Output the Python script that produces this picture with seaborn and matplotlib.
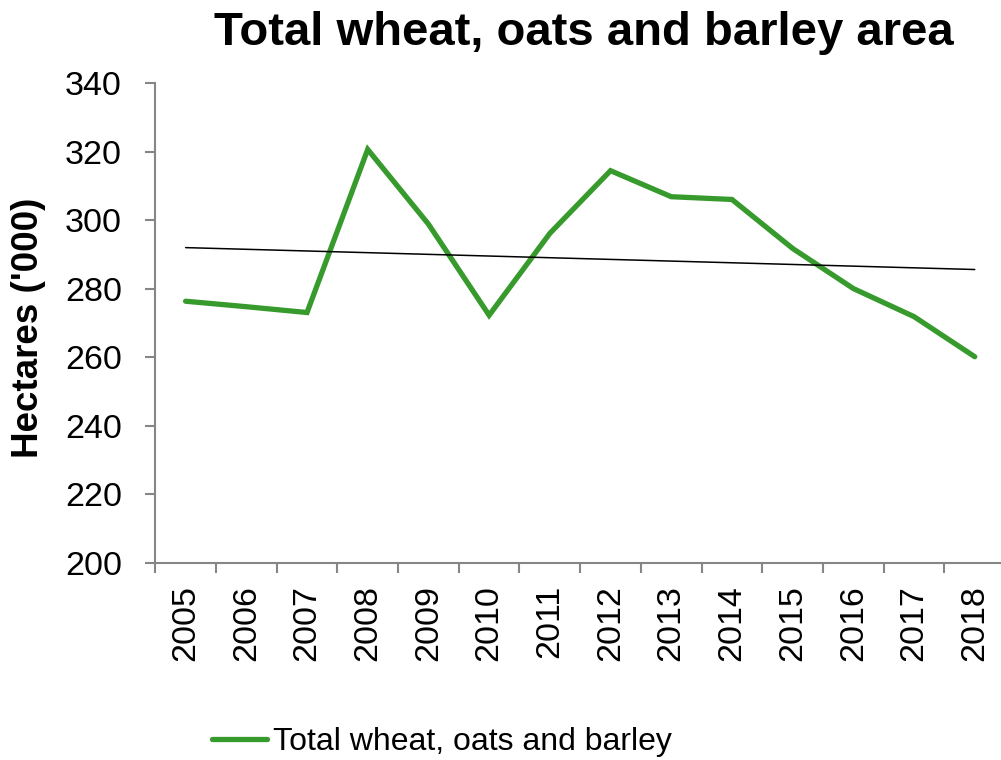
import numpy as np
import pandas as pd
import matplotlib
matplotlib.use("Agg")
import matplotlib.pyplot as plt
import seaborn as sns

years = ["2005", "2006", "2007", "2008", "2009", "2010", "2011",
         "2012", "2013", "2014", "2015", "2016", "2017", "2018"]
area = [276.4, 274.8, 273.1, 320.7, 298.9, 272.3, 296.2,
        314.5, 306.9, 306.1, 291.8, 280.1, 271.9, 260.2]
series_name = "Total wheat, oats and barley"
title = "Total wheat, oats and barley area"
ylabel = "Hectares ('000)"
yticks = [200, 220, 240, 260, 280, 300, 320, 340]

sns.set_theme(style="white")
plt.rcParams["font.family"] = ["Liberation Sans", "DejaVu Sans"]
plt.rcParams["text.color"] = "black"
plt.rcParams["axes.labelcolor"] = "black"
plt.rcParams["xtick.color"] = "black"
plt.rcParams["ytick.color"] = "black"

green = "#379a2c"
axis_grey = "#868686"

df = pd.DataFrame({"year": years, "area": area, "idx": np.arange(len(years))})

fig = plt.figure(figsize=(10.01, 7.60), dpi=100)
ax = fig.add_axes([0.1551, 0.2592, 0.849, 0.6312])

sns.lineplot(data=df, x="idx", y="area", ax=ax, color=green, linewidth=3.8,
             label=series_name, solid_capstyle="round", solid_joinstyle="miter")
# linear trend line
sns.regplot(data=df, x="idx", y="area", ax=ax, scatter=False, ci=None,
            line_kws=dict(color="black", linewidth=1.1))

ax.set_xlim(-0.5, len(years) - 0.5)
ax.set_ylim(200, 340)
ax.set_yticks(yticks)
ax.set_yticklabels([str(t) for t in yticks], fontsize=24.5)
ax.set_xticks(np.arange(len(years)))
ax.set_xticklabels(years, rotation=90, fontsize=24.5)
ax.set_xticks(np.arange(-0.5, len(years)), minor=True)
ax.tick_params(axis="x", which="major", length=0, pad=16)
ax.tick_params(axis="x", which="minor", length=7, width=1.5, color=axis_grey,
               direction="out", bottom=True)
ax.tick_params(axis="y", which="major", length=7, width=1.5, color=axis_grey,
               direction="out", left=True, pad=17)

for side in ("top", "right"):
    ax.spines[side].set_visible(False)
for side in ("left", "bottom"):
    ax.spines[side].set_color(axis_grey)
    ax.spines[side].set_linewidth(1.5)

ax.set_xlabel("")
ax.set_ylabel(ylabel, fontsize=26.5, fontweight="bold")
ax.yaxis.set_label_coords(-0.128, 0.49)

fig.text(0.583, 1 - 45 / 760, title, ha="center", va="baseline", fontsize=34,
         fontweight="bold")

ax.get_legend().remove()
handles, labels = ax.get_legend_handles_labels()
fig.legend(handles[:1], labels[:1], loc="center",
           bbox_to_anchor=(442 / 1001, 1 - 742 / 760), frameon=False,
           fontsize=23, handlelength=1.72, handletextpad=0.19)

fig.savefig("out.png", dpi=100)
